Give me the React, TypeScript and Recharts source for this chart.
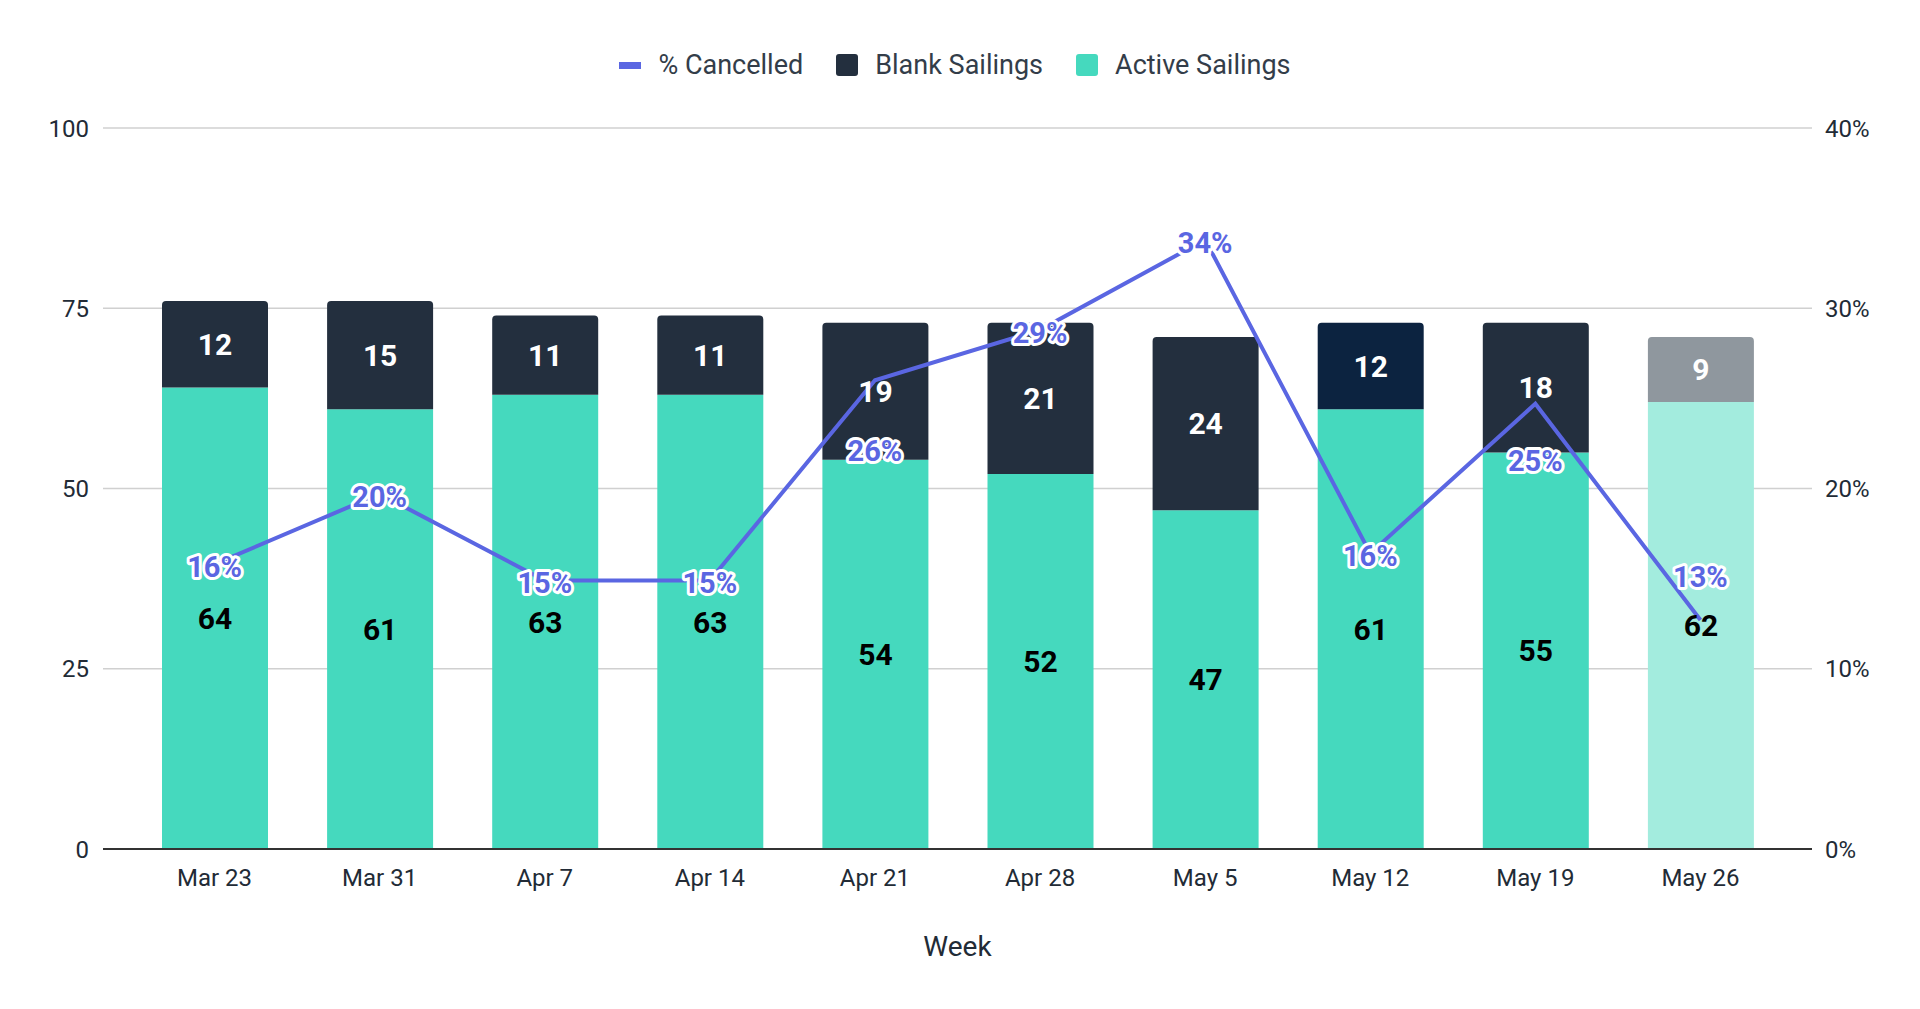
import React from 'react';
import {
  ComposedChart, Bar, Line, XAxis, YAxis, CartesianGrid, Legend, Cell, LabelList,
} from 'recharts';

const weeks = ['Mar 23', 'Mar 31', 'Apr 7', 'Apr 14', 'Apr 21', 'Apr 28', 'May 5', 'May 12', 'May 19', 'May 26'];
const activeSailings = [64, 61, 63, 63, 54, 52, 47, 61, 55, 62];
const blankSailings = [12, 15, 11, 11, 19, 21, 24, 12, 18, 9];
const pctCancelled = [15.8, 19.7, 14.9, 14.9, 26.0, 28.8, 33.8, 16.4, 24.7, 12.7];
const leftTicks = [0, 25, 50, 75, 100];
const rightTicks = [0, 10, 20, 30, 40];

// colours
const LINE = '#5A66E2';
const BLANK = '#232F3E';
const ACTIVE = '#45D9BE';
const blankFill = (w: string) => (w === 'May 12' ? '#0C2340' : w === 'May 26' ? '#8F979E' : BLANK);
const activeFill = (w: string) => (w === 'May 26' ? '#A3ECDE' : ACTIVE);

// shift a few % labels so they don't sit on the bar values
const pctLabelShift: Record<string, number> = { 'Apr 21': 68, 'May 19': 54, 'May 26': -46 };

const FONT = 'Roboto, "Noto Sans", sans-serif';
const TEXT = '#222B36';

const data = weeks.map((w, i) => ({
  week: w,
  active: activeSailings[i],
  blank: blankSailings[i],
  pct: pctCancelled[i],
}));

const PctLabel = (props: any) => {
  const { x, y, value, index } = props;
  const shift = pctLabelShift[weeks[index]] ?? 0;
  return (
    <text
      x={x}
      y={y + 3 + shift}
      textAnchor="middle"
      dominantBaseline="central"
      fontFamily={FONT}
      fontSize={29}
      fontWeight={700}
      fill={LINE}
      stroke="#fff"
      strokeWidth={6}
      strokeLinejoin="round"
      paintOrder="stroke"
    >
      {Math.round(value)}%
    </text>
  );
};

const legendItems = [
  { label: '% Cancelled', color: LINE, kind: 'line' },
  { label: 'Blank Sailings', color: BLANK, kind: 'box' },
  { label: 'Active Sailings', color: ACTIVE, kind: 'box' },
];

const LegendContent = () => (
  <div
    style={{
      height: 128,
      display: 'flex',
      justifyContent: 'center',
      alignItems: 'flex-start',
      paddingTop: 48,
      paddingLeft: 18,
      boxSizing: 'border-box',
      fontFamily: FONT,
      fontSize: 27,
      color: '#333D49',
      gap: 33,
    }}
  >
    {legendItems.map((it) => (
      <div key={it.label} style={{ display: 'flex', alignItems: 'center', gap: 17, height: 34 }}>
        {it.kind === 'line' ? (
          <div style={{ width: 22, height: 7, background: it.color }} />
        ) : (
          <div style={{ width: 22, height: 22, background: it.color, borderRadius: 3 }} />
        )}
        <span>{it.label}</span>
      </div>
    ))}
  </div>
);

export default function App() {
  return (
    <div style={{ position: 'absolute', left: 0, top: 0, width: 1920, height: 1009, background: '#fff' }}>
      <ComposedChart
        width={1920}
        height={1009}
        data={data}
        margin={{ top: 0, right: 28, left: 0, bottom: 47 }}
        style={{ fontFamily: FONT }}
      >
        <Legend verticalAlign="top" align="center" content={<LegendContent />} />
        <CartesianGrid yAxisId="left" vertical={false} stroke="#D0D0D0" strokeWidth={1.5} />
        <XAxis
          dataKey="week"
          padding={{ left: 29, right: 29 }}
          height={113}
          tickLine={false}
          tickMargin={14}
          axisLine={{ stroke: '#333', strokeWidth: 2 }}
          tick={{ fontSize: 24, fill: TEXT, fontFamily: FONT }}
          label={{ value: 'Week', position: 'insideBottom', offset: 6, fontSize: 28, fill: TEXT, fontFamily: FONT }}
        />
        <YAxis
          yAxisId="left"
          width={103}
          domain={[0, 100]}
          ticks={leftTicks}
          axisLine={false}
          tickLine={false}
          tickMargin={8}
          tick={{ fontSize: 24, fill: TEXT, fontFamily: FONT }}
        />
        <YAxis
          yAxisId="right"
          orientation="right"
          width={80}
          domain={[0, 40]}
          ticks={rightTicks}
          tickFormatter={(v) => `${v}%`}
          axisLine={false}
          tickLine={false}
          tickMargin={7}
          tick={{ fontSize: 24, fill: TEXT, fontFamily: FONT }}
        />
        <Bar yAxisId="left" dataKey="active" name="Active Sailings" stackId="s" barSize={106} isAnimationActive={false}>
          {data.map((d) => (
            <Cell key={d.week} fill={activeFill(d.week)} />
          ))}
          <LabelList dataKey="active" position="center" fill="#000" fontSize={30} fontWeight={700} fontFamily={FONT} />
        </Bar>
        <Bar yAxisId="left" dataKey="blank" name="Blank Sailings" stackId="s" barSize={106} radius={[4, 4, 0, 0]} isAnimationActive={false}>
          {data.map((d) => (
            <Cell key={d.week} fill={blankFill(d.week)} />
          ))}
          <LabelList dataKey="blank" position="center" fill="#fff" fontSize={30} fontWeight={700} fontFamily={FONT} />
        </Bar>
        <Line
          yAxisId="right"
          dataKey="pct"
          name="% Cancelled"
          stroke={LINE}
          strokeWidth={4}
          dot={false}
          activeDot={false}
          isAnimationActive={false}
          label={<PctLabel />}
        />
      </ComposedChart>
    </div>
  );
}
